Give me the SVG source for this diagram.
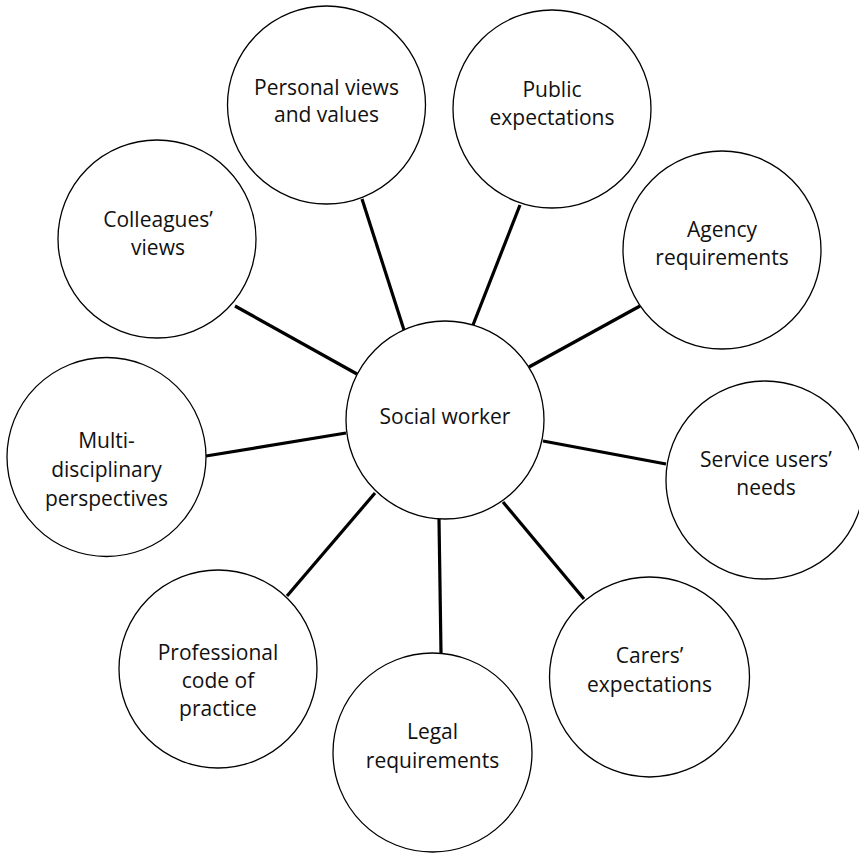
<svg xmlns="http://www.w3.org/2000/svg" width="859" height="853" viewBox="0 0 859 853">
<style>
.n{fill:#fff;stroke:#000;stroke-width:1.3}
.c line{stroke:#000;stroke-width:3.2;stroke-linecap:butt}
text{font-family:"Open Sans","Noto Sans","Liberation Sans",sans-serif;font-size:21px;fill:#111;text-anchor:middle}
</style>
<rect width="859" height="853" fill="#fff"/>
<g id="connectors" class="c">
<line x1="362" y1="199" x2="404" y2="330"/>
<line x1="520" y1="205" x2="473" y2="325"/>
<line x1="640" y1="306" x2="529" y2="367"/>
<line x1="543" y1="441" x2="666" y2="464"/>
<line x1="503" y1="502" x2="584" y2="599"/>
<line x1="439" y1="519" x2="441" y2="653"/>
<line x1="375" y1="493" x2="287" y2="596"/>
<line x1="346" y1="433" x2="206" y2="456"/>
<line x1="357" y1="374" x2="235" y2="306"/>
</g>
<g id="social-worker"><circle class="n" cx="445" cy="420" r="99"/><text x="445" y="424">Social worker</text></g>
<g id="personal"><circle class="n" cx="326.5" cy="105" r="99"/><text x="326.5" y="95">Personal views</text><text x="326.5" y="122">and values</text></g>
<g id="public"><circle class="n" cx="552" cy="109" r="99"/><text x="552" y="97">Public</text><text x="552" y="125">expectations</text></g>
<g id="agency"><circle class="n" cx="722" cy="250" r="99"/><text x="722" y="237">Agency</text><text x="722" y="265">requirements</text></g>
<g id="service-users"><circle class="n" cx="765" cy="480" r="99"/><text x="766" y="467">Service users’</text><text x="766" y="495">needs</text></g>
<g id="carers"><circle class="n" cx="649.5" cy="677" r="100"/><text x="649.5" y="663">Carers’</text><text x="649.5" y="692">expectations</text></g>
<g id="legal"><circle class="n" cx="432.5" cy="752.5" r="99.5"/><text x="432.5" y="739">Legal</text><text x="432.5" y="768">requirements</text></g>
<g id="professional"><circle class="n" cx="218" cy="669" r="99"/><text x="218" y="660">Professional</text><text x="218" y="688">code of</text><text x="218" y="716">practice</text></g>
<g id="multi"><circle class="n" cx="106.5" cy="457" r="99.5"/><text x="106.5" y="448">Multi-</text><text x="106.5" y="477">disciplinary</text><text x="106.5" y="506">perspectives</text></g>
<g id="colleagues"><circle class="n" cx="157" cy="239" r="99"/><text x="158" y="227">Colleagues’</text><text x="158" y="255">views</text></g>
</svg>
